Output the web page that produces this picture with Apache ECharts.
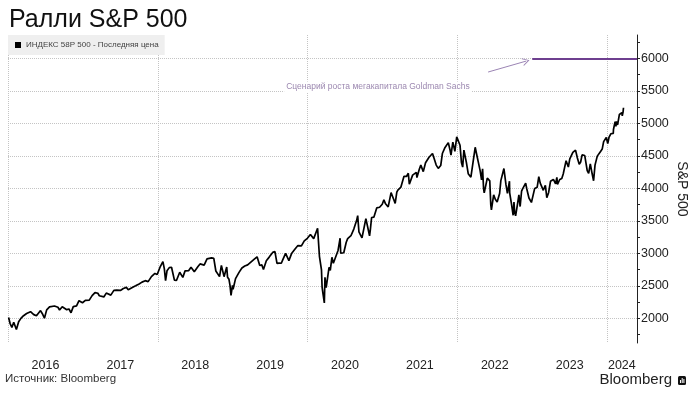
<!DOCTYPE html>
<html>
<head>
<meta charset="utf-8">
<script src="https://cdn.jsdelivr.net/npm/echarts@6/dist/echarts.min.js"></script>
<style>
html,body{margin:0;padding:0;background:#fff;}
#chart{width:698px;height:393px;}
</style>
</head>
<body>
<div id="chart"></div>
<script>
// ---- DATA ----
const dates = [
 '2016-01-04','2016-01-11','2016-01-20','2016-01-29','2016-02-11','2016-02-22','2016-03-04','2016-03-17','2016-04-01','2016-04-20','2016-05-06','2016-05-19','2016-06-08','2016-06-17','2016-06-27','2016-07-08','2016-07-22','2016-08-15','2016-09-01','2016-09-09','2016-09-22','2016-10-14','2016-11-04','2016-11-15','2016-12-01','2016-12-13','2016-12-30',
 '2017-01-13','2017-02-01','2017-02-15','2017-03-01','2017-03-15','2017-04-13','2017-05-01','2017-05-17','2017-06-01','2017-06-15','2017-07-03','2017-07-17','2017-08-01','2017-08-18','2017-09-01','2017-09-15','2017-10-02','2017-10-16','2017-11-01','2017-11-15','2017-12-01','2017-12-18','2017-12-29',
 '2018-01-12','2018-01-26','2018-02-08','2018-02-15','2018-02-26','2018-03-09','2018-03-23','2018-04-02','2018-04-18','2018-05-03','2018-05-14','2018-06-01','2018-06-12','2018-06-28','2018-07-16','2018-08-01','2018-08-15','2018-08-29','2018-09-20','2018-10-01','2018-10-11','2018-10-29','2018-11-07','2018-11-23','2018-12-03','2018-12-14','2018-12-24','2018-12-31',
 '2019-01-15','2019-02-01','2019-02-15','2019-03-01','2019-03-15','2019-04-01','2019-04-15','2019-04-30','2019-05-13','2019-05-31','2019-06-14','2019-06-28','2019-07-15','2019-07-26','2019-08-05','2019-08-15','2019-09-03','2019-09-16','2019-10-02','2019-10-15','2019-11-01','2019-11-15','2019-12-02','2019-12-16','2019-12-31',
 '2020-01-15','2020-01-31','2020-02-19','2020-02-28','2020-03-09','2020-03-16','2020-03-23','2020-03-26','2020-04-01','2020-04-15','2020-04-29','2020-05-13','2020-05-29','2020-06-08','2020-06-11','2020-06-26','2020-07-15','2020-07-31','2020-08-14','2020-09-02','2020-09-23','2020-10-12','2020-10-30','2020-11-09','2020-11-20','2020-12-04','2020-12-18','2020-12-31',
 '2021-01-15','2021-01-29','2021-02-12','2021-03-04','2021-03-17','2021-04-01','2021-04-16','2021-05-07','2021-05-12','2021-05-28','2021-06-15','2021-06-30','2021-07-19','2021-07-30','2021-08-16','2021-09-02','2021-09-20','2021-10-04','2021-10-20','2021-11-02','2021-11-18','2021-11-30','2021-12-10','2021-12-20',
 '2022-01-03','2022-01-14','2022-01-27','2022-02-02','2022-02-23','2022-03-08','2022-03-29','2022-04-14','2022-04-29','2022-05-09','2022-05-20','2022-06-02','2022-06-16','2022-06-27','2022-07-14','2022-08-01','2022-08-16','2022-09-02','2022-09-12','2022-09-30','2022-10-04','2022-10-12','2022-10-28','2022-11-03','2022-11-15','2022-11-30','2022-12-13','2022-12-28',
 '2023-01-13','2023-02-02','2023-02-24','2023-03-13','2023-03-31','2023-04-14','2023-05-01','2023-05-15','2023-06-01','2023-06-15','2023-07-03','2023-07-31','2023-08-18','2023-09-01','2023-09-26','2023-10-11','2023-10-27','2023-11-14','2023-11-30','2023-12-15','2023-12-28',
 '2024-01-04','2024-01-19','2024-02-01','2024-02-15','2024-02-21','2024-03-01','2024-03-15','2024-03-21'
];
const closes = [
 2012,1923,1859,1940,1829,1946,1999,2040,2073,2102,2057,2040,2119,2071,2001,2130,2175,2190,2170,2128,2177,2133,2085,2180,2191,2271,2239,
 2275,2280,2349,2396,2385,2329,2388,2357,2430,2433,2429,2459,2476,2425,2477,2500,2529,2557,2579,2565,2642,2690,2674,
 2786,2873,2581,2731,2780,2786,2588,2582,2709,2630,2730,2735,2786,2716,2798,2813,2818,2914,2931,2924,2728,2641,2814,2633,2790,2600,2351,2507,
 2610,2707,2775,2804,2822,2868,2906,2946,2812,2752,2887,2942,3014,3026,2845,2848,2906,2998,2888,2996,3067,3120,3114,3191,3231,
 3289,3226,3386,2954,2747,2386,2237,2630,2471,2783,2939,2820,3044,3232,3002,3009,3227,3271,3373,3580,3237,3534,3270,3551,3557,3699,3709,3756,
 3768,3714,3934,3768,3974,4020,4185,4232,4063,4204,4246,4297,4258,4395,4479,4537,4358,4300,4536,4630,4704,4567,4712,4568,
 4797,4663,4327,4589,4225,4171,4632,4393,4132,3991,3901,4177,3667,3900,3790,4119,4305,3924,4110,3586,3791,3577,3901,3720,3992,4080,4019,3783,
 3999,4179,3970,3855,4109,4137,4168,4136,4221,4426,4455,4589,4370,4515,4274,4376,4117,4496,4568,4719,4783,
 4688,4840,4906,5030,4976,5137,5117,5241
];
// extra in-between readings for the wiggles
const extraDates = [
 '2016-10-25','2016-12-20','2017-03-22','2017-04-25','2017-08-10','2017-09-07',
 '2018-02-02','2018-03-13','2018-04-06','2018-07-26','2018-10-03','2018-11-20','2018-12-07','2018-12-19',
 '2019-01-03','2019-05-23','2019-08-26','2019-09-20',
 '2020-02-03','2020-03-12','2020-03-18','2020-04-21','2020-05-06','2020-07-08','2020-08-28','2020-09-08','2020-11-03',
 '2021-01-08','2021-02-25','2021-03-12','2021-04-28','2021-06-18','2021-07-07','2021-09-30','2021-10-12','2021-11-26','2021-12-01','2021-12-29',
 '2022-01-21','2022-02-09','2022-02-14','2022-03-14','2022-04-05','2022-04-22','2022-05-04','2022-05-12','2022-05-27','2022-06-08','2022-06-13','2022-07-05','2022-07-26','2022-08-05','2022-08-26','2022-09-06','2022-09-13','2022-09-22','2022-10-07','2022-10-21','2022-11-10','2022-12-01','2022-12-05','2022-12-16',
 '2023-01-05','2023-01-25','2023-02-09','2023-03-06','2023-03-22','2023-04-25','2023-05-04','2023-05-25','2023-06-26','2023-07-18','2023-08-09','2023-08-25','2023-09-14','2023-10-03','2023-10-20','2023-11-03','2023-12-08',
 '2024-01-10','2024-01-31','2024-02-09','2024-02-13','2024-03-07','2024-03-13','2024-03-19'
];
const extraCloses = [
 2143,2270,2348,2388,2438,2465,
 2762,2765,2604,2837,2925,2641,2633,2507,
 2448,2822,2847,2992,
 3249,2481,2398,2737,2848,3170,3508,3332,3369,
 3824,3829,3943,4183,4166,4358,4308,4351,4595,4513,4793,
 4398,4587,4401,4173,4525,4272,4300,3930,4158,4116,3750,3831,3921,4145,4057,3908,3932,3757,3640,3752,3956,4076,3998,3852,
 3808,4016,4081,4048,3937,4071,4061,4151,4328,4555,4467,4405,4505,4229,4224,4358,4604,
 4783,4846,5026,4953,5157,5165,5178
];
const yearLabels = [2016, 2017, 2018, 2019, 2020, 2021, 2022, 2023, 2024];
const gridYears = [2016, 2018, 2020, 2022, 2024];
const yLabelValues = [2000, 2500, 3000, 3500, 4000, 4500, 5000, 5500, 6000];
const yTickValues = [1750, 2000, 2250, 2500, 2750, 3000, 3250, 3500, 3750, 4000, 4250, 4500, 4750, 5000, 5250, 5500, 5750, 6000, 6250];
const targetLevel = 6000;
const targetStart = '2023-01-01';
const arrowFrom = ['2022-05-31', 5790];
const arrowTo = ['2022-12-02', 5958];
const noteText = 'Сценарий роста мегакапитала Goldman Sachs';
const notePos = ['2020-12-10', 5560];
const seriesName = 'ИНДЕКС 58P 500 - Последняя цена';

// ---- HELPERS ----
// date string -> fractional year, used as the x value on a value axis
function toYear(s) {
  const p = s.split('-').map(Number);
  const y = p[0];
  const t = Date.UTC(y, p[1] - 1, p[2]);
  const a = Date.UTC(y, 0, 1), b = Date.UTC(y + 1, 0, 1);
  return y + (t - a) / (b - a);
}
const xMin = toYear('2016-01-01');
const xMax = toYear('2024-05-26');
const yMin = 1620, yMax = 6360;
const sans = '"Liberation Sans",Arial,sans-serif';

const lineData = dates.map((d, i) => [toYear(d), closes[i]])
  .concat(extraDates.map((d, i) => [toYear(d), extraCloses[i]]))
  .sort((a, b) => a[0] - b[0]);
const labelPos = yearLabels.map(y => y === 2024 ? toYear('2024-03-13') : y + 0.5);

const chart = echarts.init(document.getElementById('chart'), null, {renderer: 'canvas'});
chart.setOption({
  animation: false,
  backgroundColor: '#fff',
  title: {
    text: 'Ралли S&P 500',
    left: 4, top: 3,
    textStyle: {fontFamily: sans, fontSize: 25, fontWeight: 'normal', color: '#111'}
  },
  legend: {
    show: true,
    left: 8, top: 35,
    padding: [6, 6, 6, 7],
    backgroundColor: '#efefef',
    itemWidth: 6, itemHeight: 6, itemGap: 0,
    icon: 'rect',
    textStyle: {fontFamily: sans, fontSize: 8, color: '#444'},
    data: [{name: seriesName, itemStyle: {color: '#000'}}]
  },
  grid: {left: 8, right: 61, top: 35, bottom: 50, containLabel: false, outerBoundsMode: 'none'},
  xAxis: {
    type: 'value',
    min: xMin, max: xMax,
    axisLine: {show: false},
    axisTick: {show: false, customValues: gridYears},
    splitLine: {show: true, lineStyle: {type: 'dotted', color: '#c4c4c4', width: 1}},
    axisLabel: {
      customValues: labelPos,
      formatter: v => String(Math.floor(v)),
      margin: 16,
      fontFamily: sans, fontSize: 12.5, color: '#222'
    }
  },
  yAxis: {
    type: 'value',
    position: 'right',
    min: yMin, max: yMax,
    name: 'S&P 500',
    nameLocation: 'middle',
    nameRotate: -90,
    nameGap: 38,
    nameMoveOverlap: false,
    nameTextStyle: {fontFamily: sans, fontSize: 14, color: '#222'},
    axisLine: {show: true, lineStyle: {color: '#222', width: 1}},
    axisTick: {show: true, inside: false, length: 3, customValues: yTickValues, lineStyle: {color: '#222'}},
    axisLabel: {customValues: yLabelValues, formatter: v => String(v), margin: 4, fontFamily: sans, fontSize: 12.5, color: '#222'},
    splitLine: {show: false}
  },
  series: [
    {
      name: seriesName,
      type: 'line',
      data: lineData,
      showSymbol: false,
      symbol: 'none',
      lineStyle: {color: '#000', width: 1.7},
      itemStyle: {color: '#000'},
      z: 5,
      markLine: {
        silent: true,
        symbol: 'none',
        label: {show: false},
        lineStyle: {type: 'dotted', color: '#c4c4c4', width: 1},
        data: yLabelValues.map(v => ({yAxis: v}))
      }
    },
    {
      name: 'target',
      type: 'line',
      data: [],
      z: 6,
      markLine: {
        silent: true,
        symbol: 'none',
        label: {show: false},
        data: [
          [{coord: [toYear(targetStart), targetLevel], lineStyle: {color: '#6e3f8f', width: 2, type: 'solid'}},
           {coord: [xMax, targetLevel]}],
          [{coord: [toYear(arrowFrom[0]), arrowFrom[1]], lineStyle: {color: '#9b84b4', width: 1, type: 'solid'}, symbol: 'none'},
           {coord: [toYear(arrowTo[0]), arrowTo[1]], symbol: 'path://M5,0 L10,10 L8.8,10 L5,2.4 L1.2,10 L0,10 Z', symbolSize: [8, 7]}]
        ]
      },
      markPoint: {
        silent: true,
        symbol: 'rect',
        symbolSize: 0,
        data: [{coord: [toYear(notePos[0]), notePos[1]]}],
        label: {
          show: true,
          position: 'inside',
          formatter: noteText,
          fontFamily: sans, fontSize: 8.5, color: '#9c88b0',
          backgroundColor: '#fff', padding: [1, 2]
        }
      }
    }
  ],
  graphic: [
    {type: 'text', left: 5, top: 373,
     style: {text: 'Источник: Bloomberg', font: '11.5px ' + sans, fill: '#333'}},
    {type: 'text', right: 26, top: 372,
     style: {text: 'Bloomberg', font: '15px ' + sans, fill: '#222'}},
    {type: 'group', right: 12, top: 376, children: [
      {type: 'rect', shape: {x: 0, y: 0, width: 8, height: 9, r: 1.5}, style: {fill: '#111'}},
      {type: 'rect', shape: {x: 2, y: 4, width: 1, height: 3}, style: {fill: '#fff'}},
      {type: 'rect', shape: {x: 3.7, y: 2, width: 1, height: 5}, style: {fill: '#fff'}},
      {type: 'rect', shape: {x: 5.4, y: 3, width: 1, height: 4}, style: {fill: '#fff'}}
    ]}
  ]
});
</script>
</body>
</html>
